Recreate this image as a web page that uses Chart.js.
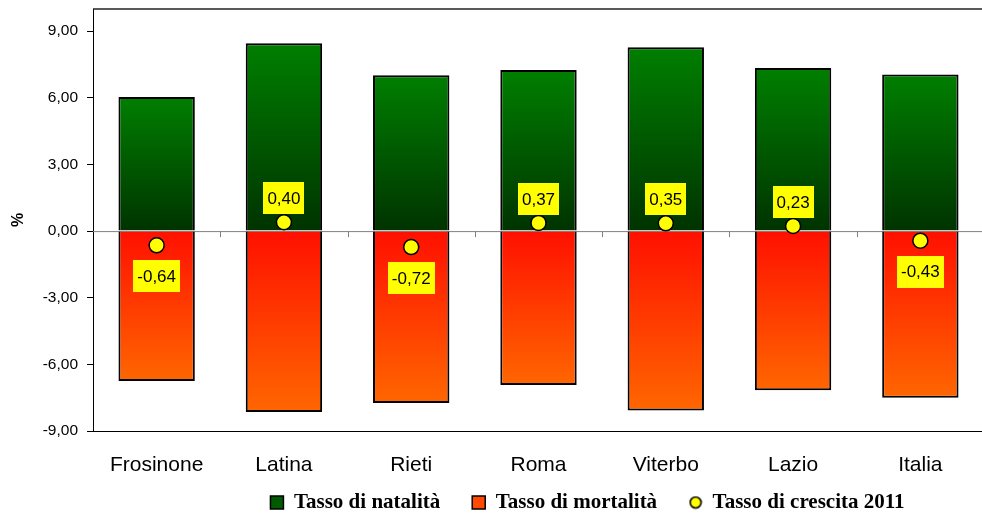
<!DOCTYPE html>
<html lang="it">
<head>
<meta charset="utf-8">
<title>Tassi demografici 2011</title>
<script src="https://cdn.jsdelivr.net/npm/chart.js@4"></script>
<style>
  html, body { margin: 0; padding: 0; background: #fff; overflow: hidden; }
  #box { width: 993px; height: 516px; }
</style>
</head>
<body>
<div id="box"><canvas id="tassiChart"></canvas></div>
<script>
// tassi per mille abitanti, 2011
const categorie = ['Frosinone', 'Latina', 'Rieti', 'Roma', 'Viterbo', 'Lazio', 'Italia'];
const natalita = [6.04, 8.46, 7.02, 7.25, 8.28, 7.34, 7.05];
const mortalita = [-6.75, -8.15, -7.74, -6.93, -8.08, -7.16, -7.50];
const crescita = [-0.64, 0.40, -0.72, 0.37, 0.35, 0.23, -0.43];
const yTicks = [-9, -6, -3, 0, 3, 6, 9];

const fmt = v => v.toFixed(2).replace('.', ',');

// sfumatura verticale per ogni barra: dal valore verso lo zero
function sfumatura(cEstremo, cZero) {
    return ctx => {
        const chart = ctx.chart;
        const y = chart.scales ? chart.scales.y : null;
        if (!chart.chartArea || !y || ctx.raw === undefined) return cEstremo;
        const yv = y.getPixelForValue(ctx.raw);
        const y0 = y.getPixelForValue(0);
        if (!isFinite(yv) || !isFinite(y0) || yv === y0) return cEstremo;
        const g = chart.ctx.createLinearGradient(0, yv, 0, y0);
        g.addColorStop(0, cEstremo);
        g.addColorStop(1, cZero);
        return g;
    };
}

// pallino giallo per la legenda
const pallino = document.createElement('canvas');
pallino.width = 14; pallino.height = 14;
(() => {
    const c = pallino.getContext('2d');
    c.beginPath();
    c.arc(7, 7, 5.5, 0, Math.PI * 2);
    c.fillStyle = '#ffff00';
    c.fill();
    c.lineWidth = 1.6;
    c.strokeStyle = '#000';
    c.stroke();
})();

// linea dello zero, tacche tra le categorie e bordo superiore
const cornice = {
    id: 'cornice',
    beforeDatasetsDraw(chart) {
        const { ctx, chartArea: a, scales: { x, y } } = chart;
        const y0 = y.getPixelForValue(0);
        ctx.save();
        ctx.strokeStyle = '#808080';
        ctx.lineWidth = 1;
        ctx.beginPath();
        ctx.moveTo(a.left, y0 + 0.5);
        ctx.lineTo(a.right, y0 + 0.5);
        for (let i = 0; i < categorie.length - 1; i++) {
            const xm = Math.round((x.getPixelForValue(i) + x.getPixelForValue(i + 1)) / 2) + 0.5;
            ctx.moveTo(xm, y0);
            ctx.lineTo(xm, y0 + 6);
        }
        ctx.stroke();
        ctx.strokeStyle = '#222';
        ctx.lineWidth = 1.5;
        ctx.beginPath();
        ctx.moveTo(a.left, a.top);
        ctx.lineTo(a.right, a.top);
        ctx.stroke();
        ctx.restore();
    }
};

// la legenda sta più in alto e spostata a destra rispetto al centro
const spostaLegenda = {
    id: 'spostaLegenda',
    afterLayout(chart) {
        const lg = chart.legend;
        if (!lg) return;
        lg.left += 91;
        lg.right += 91;
        lg.top -= 16;
        lg.bottom -= 16;
    }
};

// etichette gialle del tasso di crescita
const etichette = {
    id: 'etichette',
    afterDatasetsDraw(chart) {
        const { ctx } = chart;
        const meta = chart.getDatasetMeta(2);
        ctx.save();
        ctx.font = '17px "Liberation Sans", Arial, sans-serif';
        ctx.textAlign = 'center';
        ctx.textBaseline = 'middle';
        meta.data.forEach((pt, i) => {
            const v = crescita[i];
            const testo = fmt(v);
            const w = ctx.measureText(testo).width + 8;
            const h = 32;
            const cy = v >= 0 ? pt.y - 24 : pt.y + 31;
            ctx.fillStyle = '#ffff00';
            ctx.fillRect(Math.round(pt.x - w / 2), Math.round(cy - h / 2), Math.round(w), h);
            ctx.fillStyle = '#000';
            ctx.fillText(testo, pt.x, cy + 1);
        });
        ctx.restore();
    }
};

new Chart(document.getElementById('tassiChart'), {
    data: {
        labels: categorie,
        datasets: [
            {
                type: 'bar',
                label: 'Tasso di natalità',
                data: natalita,
                stack: 'tassi',
                order: 1,
                backgroundColor: sfumatura('#007f00', '#003300'),
                coloreLegenda: '#005a00',
                borderColor: '#000',
                borderWidth: 2,
                barPercentage: 0.6,
                categoryPercentage: 1
            },
            {
                type: 'bar',
                label: 'Tasso di mortalità',
                data: mortalita,
                stack: 'tassi',
                order: 1,
                backgroundColor: sfumatura('#ff6600', '#ff1000'),
                coloreLegenda: '#ff4a00',
                borderColor: '#000',
                borderWidth: 2,
                barPercentage: 0.6,
                categoryPercentage: 1
            },
            {
                type: 'line',
                label: 'Tasso di crescita 2011',
                data: crescita,
                stack: 'crescita',
                order: 0,
                showLine: false,
                pointRadius: 7.5,
                pointBackgroundColor: '#ffff00',
                pointBorderColor: '#000',
                pointBorderWidth: 1.5
            }
        ]
    },
    options: {
        responsive: true,
        maintainAspectRatio: false,
        animation: false,
        layout: { padding: { top: 8, right: 0, left: 0, bottom: -23 } },
        plugins: {
            tooltip: { enabled: false },
            legend: {
                position: 'bottom',
                align: 'center',
                labels: {
                    usePointStyle: true,
                    boxWidth: 13,
                    boxHeight: 13,
                    padding: 32,
                    color: '#000',
                    font: { family: '"Liberation Serif", "Times New Roman", serif', size: 21, weight: 'bold' },
                    sort: (a, b) => a.datasetIndex - b.datasetIndex,
                    generateLabels: chart => chart.data.datasets.map((ds, i) => ({
                        text: ds.label,
                        datasetIndex: i,
                        fillStyle: ds.coloreLegenda || '#ffff00',
                        strokeStyle: '#000',
                        lineWidth: 1.5,
                        fontColor: '#000',
                        hidden: false,
                        pointStyle: ds.type === 'line' ? pallino : 'rect'
                    }))
                }
            }
        },
        scales: {
            x: {
                stacked: true,
                grid: { display: true, drawOnChartArea: false, drawTicks: false, color: 'transparent' },
                border: { display: true, color: '#000', width: 1 },
                ticks: {
                    color: '#000',
                    padding: 22,
                    font: { family: '"Liberation Sans", Arial, sans-serif', size: 21 }
                },
                afterFit: scale => { scale.height = 45; }
            },
            y: {
                stacked: true,
                min: -9,
                max: 10,
                afterBuildTicks: scale => { scale.ticks = yTicks.map(v => ({ value: v })); },
                grid: { drawOnChartArea: false, drawTicks: true, tickLength: 6, color: '#000' },
                border: { display: true, color: '#000', width: 1 },
                ticks: {
                    color: '#000',
                    padding: 9,
                    font: { family: '"Liberation Sans", Arial, sans-serif', size: 15.5 },
                    callback: v => fmt(v)
                },
                title: {
                    display: true,
                    text: '%',
                    color: '#000',
                    padding: { top: 9, bottom: 0 },
                    font: { family: '"Liberation Sans", Arial, sans-serif', size: 16, weight: 'bold' }
                },
                afterFit: scale => {
                    scale.width = 93;
                    scale.paddingTop = 0;
                    scale.paddingBottom = 0;
                }
            }
        }
    },
    plugins: [cornice, spostaLegenda, etichette]
});
</script>
</body>
</html>
